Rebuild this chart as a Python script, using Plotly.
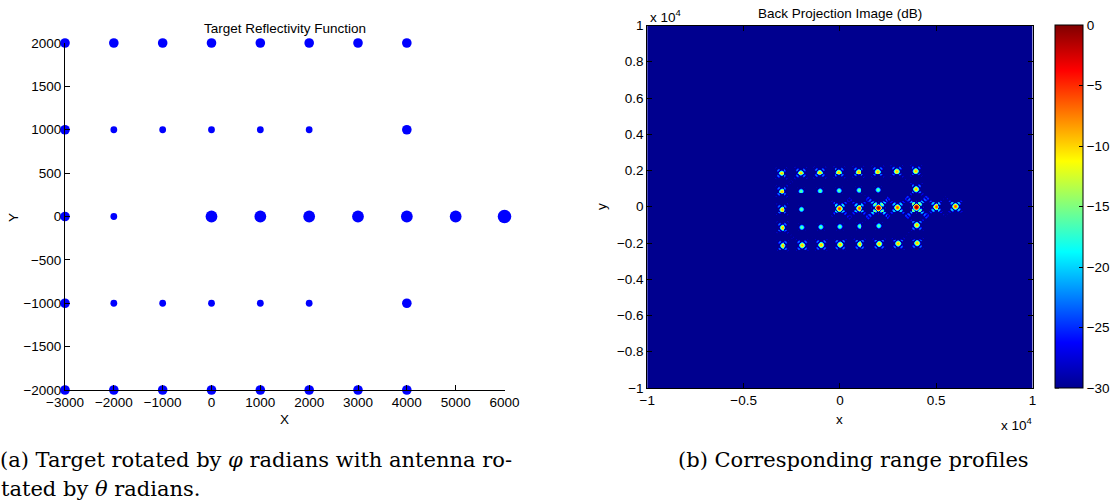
import numpy as np
import plotly.graph_objects as go

# ---------------- data ----------------
# Target grid (left panel) : positions and reflectivity
tgt_x = [-3000, -2000, -1000, 0, 1000, 2000, 3000, 4000,
         -3000, -2000, -1000, 0, 1000, 2000, 4000,
         -3000, -2000, 0, 1000, 2000, 3000, 4000, 5000, 6000,
         -3000, -2000, -1000, 0, 1000, 2000, 4000,
         -3000, -2000, -1000, 0, 1000, 2000, 3000, 4000]
tgt_y = [2000, 2000, 2000, 2000, 2000, 2000, 2000, 2000,
         1000, 1000, 1000, 1000, 1000, 1000, 1000,
         0, 0, 0, 0, 0, 0, 0, 0, 0,
         -1000, -1000, -1000, -1000, -1000, -1000, -1000,
         -2000, -2000, -2000, -2000, -2000, -2000, -2000, -2000]
reflectivity = [1, 1, 1, 1, 1, 1, 1, 1,
                1, 0.5, 0.5, 0.5, 0.5, 0.5, 1,
                1, 0.5, 1.5, 1.5, 1.5, 1.5, 1.5, 1.5, 2,
                1, 0.5, 0.5, 0.5, 0.5, 0.5, 1,
                1, 1, 1, 1, 1, 1, 1, 1]
# Peak level of each target in the back projection image (dB)
bp_peak_db = [-9, -9, -9, -9, -9, -9, -9, -9,
              -9, -16, -16, -16, -16, -16, -9,
              -9, -16, -5, -6, 0, -6, 0, -6, -6,
              -9, -16, -16, -16, -16, -16, -9,
              -9, -9, -9, -9, -9, -9, -9, -9]
# rotation of the imaged scene (radians) and its pivot
phi = 0.018
pivot = (6000.0, 0.0)

left_xticks = [-3000, -2000, -1000, 0, 1000, 2000, 3000, 4000, 5000, 6000]
left_xtext = ["\u22123000", "\u22122000", "\u22121000", "0", "1000", "2000", "3000", "4000", "5000", "6000"]
left_yticks = [-2000, -1500, -1000, -500, 0, 500, 1000, 1500, 2000]
left_ytext = ["\u22122000", "\u22121500", "\u22121000", "\u2212500", "0", "500", "1000", "1500", "2000"]

right_xticks = [-10000, -5000, 0, 5000, 10000]
right_xtext = ["\u22121", "\u22120.5", "0", "0.5", "1"]
right_yticks = [-10000, -8000, -6000, -4000, -2000, 0, 2000, 4000, 6000, 8000, 10000]
right_ytext = ["\u22121", "\u22120.8", "\u22120.6", "\u22120.4", "\u22120.2", "0", "0.2", "0.4", "0.6", "0.8", "1"]
cbar_ticks = [0, -5, -10, -15, -20, -25, -30]
cbar_range = (-30, 0)

# ---------------- back projection image table ----------------
step = 50.0
gx = np.arange(-10000, 10000 + step, step)
gy = np.arange(-10000, 10000 + step, step)
GX, GY = np.meshgrid(gx, gy)
lobe_w = 170.0
taper = 700.0
amp = np.zeros_like(GX)
cph, sph = np.cos(phi), np.sin(phi)
for x0, y0, db in zip(tgt_x, tgt_y, bp_peak_db):
    xr = pivot[0] + (x0 - pivot[0]) * cph - (y0 - pivot[1]) * sph
    yr = pivot[1] + (x0 - pivot[0]) * sph + (y0 - pivot[1]) * cph
    dx = GX - xr
    dy = GY - yr
    u = (dx + dy) / np.sqrt(2)
    v = (dx - dy) / np.sqrt(2)
    psf = np.abs(np.sinc(u / lobe_w) * np.sinc(v / lobe_w)) * np.exp(-(u * u + v * v) / (2 * taper * taper))
    amp += 10 ** (db / 20.0) * psf
zdb = 20 * np.log10(np.maximum(amp, 1e-6))
zdb = np.round(np.clip(zdb, cbar_range[0], cbar_range[1]), 1)

jet = [[0.0, "rgb(0,0,143)"], [0.125, "rgb(0,0,255)"], [0.375, "rgb(0,255,255)"],
       [0.625, "rgb(255,255,0)"], [0.875, "rgb(255,0,0)"], [1.0, "rgb(128,0,0)"]]

W, H = 1112, 501
def px(x):
    return x / W
def py(y):
    return 1 - y / H

FONT = "Liberation Sans, Arial, sans-serif"
FS = 13.5
SERIF = "DejaVu Serif, serif"

CB_LEFT, CB_W, CB_TOP, CB_BOT = 1055, 28, 25.5, 388

fig = go.Figure()

fig.add_trace(go.Scatter(
    x=tgt_x, y=tgt_y, mode="markers",
    marker=dict(size=reflectivity, sizemode="area", sizeref=0.0217, color="rgb(0,0,255)",
                opacity=1, line=dict(width=0)),
    cliponaxis=False, xaxis="x", yaxis="y", showlegend=False, hoverinfo="skip"))

fig.add_trace(go.Heatmap(
    x=gx, y=gy, z=zdb.tolist(), colorscale=jet, zmin=cbar_range[0], zmax=cbar_range[1], zsmooth=False,
    xaxis="x2", yaxis="y2", hoverinfo="skip",
    colorbar=dict(x=px(CB_LEFT), xanchor="left", xpad=0, ypad=0,
                  y=py((CB_TOP + CB_BOT) / 2), yanchor="middle",
                  len=CB_BOT - CB_TOP, lenmode="pixels", thickness=CB_W, thicknessmode="pixels",
                  outlinewidth=1, outlinecolor="black",
                  tickvals=cbar_ticks, ticks="inside", ticklen=4, tickcolor="black",
                  tickfont=dict(family=FONT, size=FS, color="black"))))

axcommon = dict(showgrid=False, zeroline=False, showline=True, linecolor="black", linewidth=1,
                ticks="inside", ticklen=5, tickcolor="black",
                tickfont=dict(family=FONT, size=FS, color="black"))

fig.update_layout(
    width=W, height=H, margin=dict(l=0, r=0, t=0, b=0, autoexpand=False),
    paper_bgcolor="white", plot_bgcolor="white", showlegend=False,
    xaxis=dict(domain=[px(65), px(504.5)], range=[-3000, 6000], tickvals=left_xticks,
               ticktext=left_xtext, anchor="y", **axcommon),
    yaxis=dict(domain=[py(390), py(43)], range=[-2000, 2000], tickvals=left_yticks,
               ticktext=left_ytext, anchor="x", **axcommon),
    xaxis2=dict(domain=[px(647.3), px(1032.5)], range=[-10000, 10000], tickvals=right_xticks,
                ticktext=right_xtext, anchor="y2", mirror="ticks", **axcommon),
    yaxis2=dict(domain=[py(388), py(25.5)], range=[-10000, 10000], tickvals=right_yticks,
                ticktext=right_ytext, anchor="x2", mirror="ticks", **axcommon),
)

# left-side tick marks of the colorbar (MATLAB draws them on both sides)
shapes = []
for t in cbar_ticks:
    frac = (t - cbar_range[0]) / (cbar_range[1] - cbar_range[0])
    yy = py(CB_BOT) + frac * (py(CB_TOP) - py(CB_BOT))
    shapes.append(dict(type="line", xref="paper", yref="paper",
                       x0=px(CB_LEFT), x1=px(CB_LEFT + 4), y0=yy, y1=yy,
                       line=dict(color="black", width=1)))
fig.update_layout(shapes=shapes)

ann = []
def text(x, y, s, size=FS, family=FONT, xanchor="center", yanchor="middle", angle=0):
    ann.append(dict(x=px(x), y=py(y), xref="paper", yref="paper", text=s, showarrow=False,
                    xanchor=xanchor, yanchor=yanchor, textangle=angle,
                    font=dict(family=family, size=size, color="black")))

text(284.7, 28, "Target Reflectivity Function")
text(14, 218, "Y", angle=-90)
text(284.7, 419, "X")
text(839.9, 13.6, "Back Projection Image (dB)")
text(601, 207, "y", angle=-90)
text(839.9, 419, "x")
text(648, 16, "x 10<sup>4</sup>", xanchor="left")
text(1034, 424, "x 10<sup>4</sup>", xanchor="right")
text(-2, 460, "(a) Target rotated by <i>\u03c6</i> radians with antenna ro-", size=21, family=SERIF, xanchor="left")
text(-1, 489, "tated by <i>\u03b8</i> radians.", size=21, family=SERIF, xanchor="left")
text(853.5, 460, "(b) Corresponding range profiles", size=21, family=SERIF)
fig.update_layout(annotations=ann)

fig.write_html("out.html", config={"displayModeBar": False, "staticPlot": True},
               post_script="document.body.style.margin='0';document.body.style.overflow='hidden';")
